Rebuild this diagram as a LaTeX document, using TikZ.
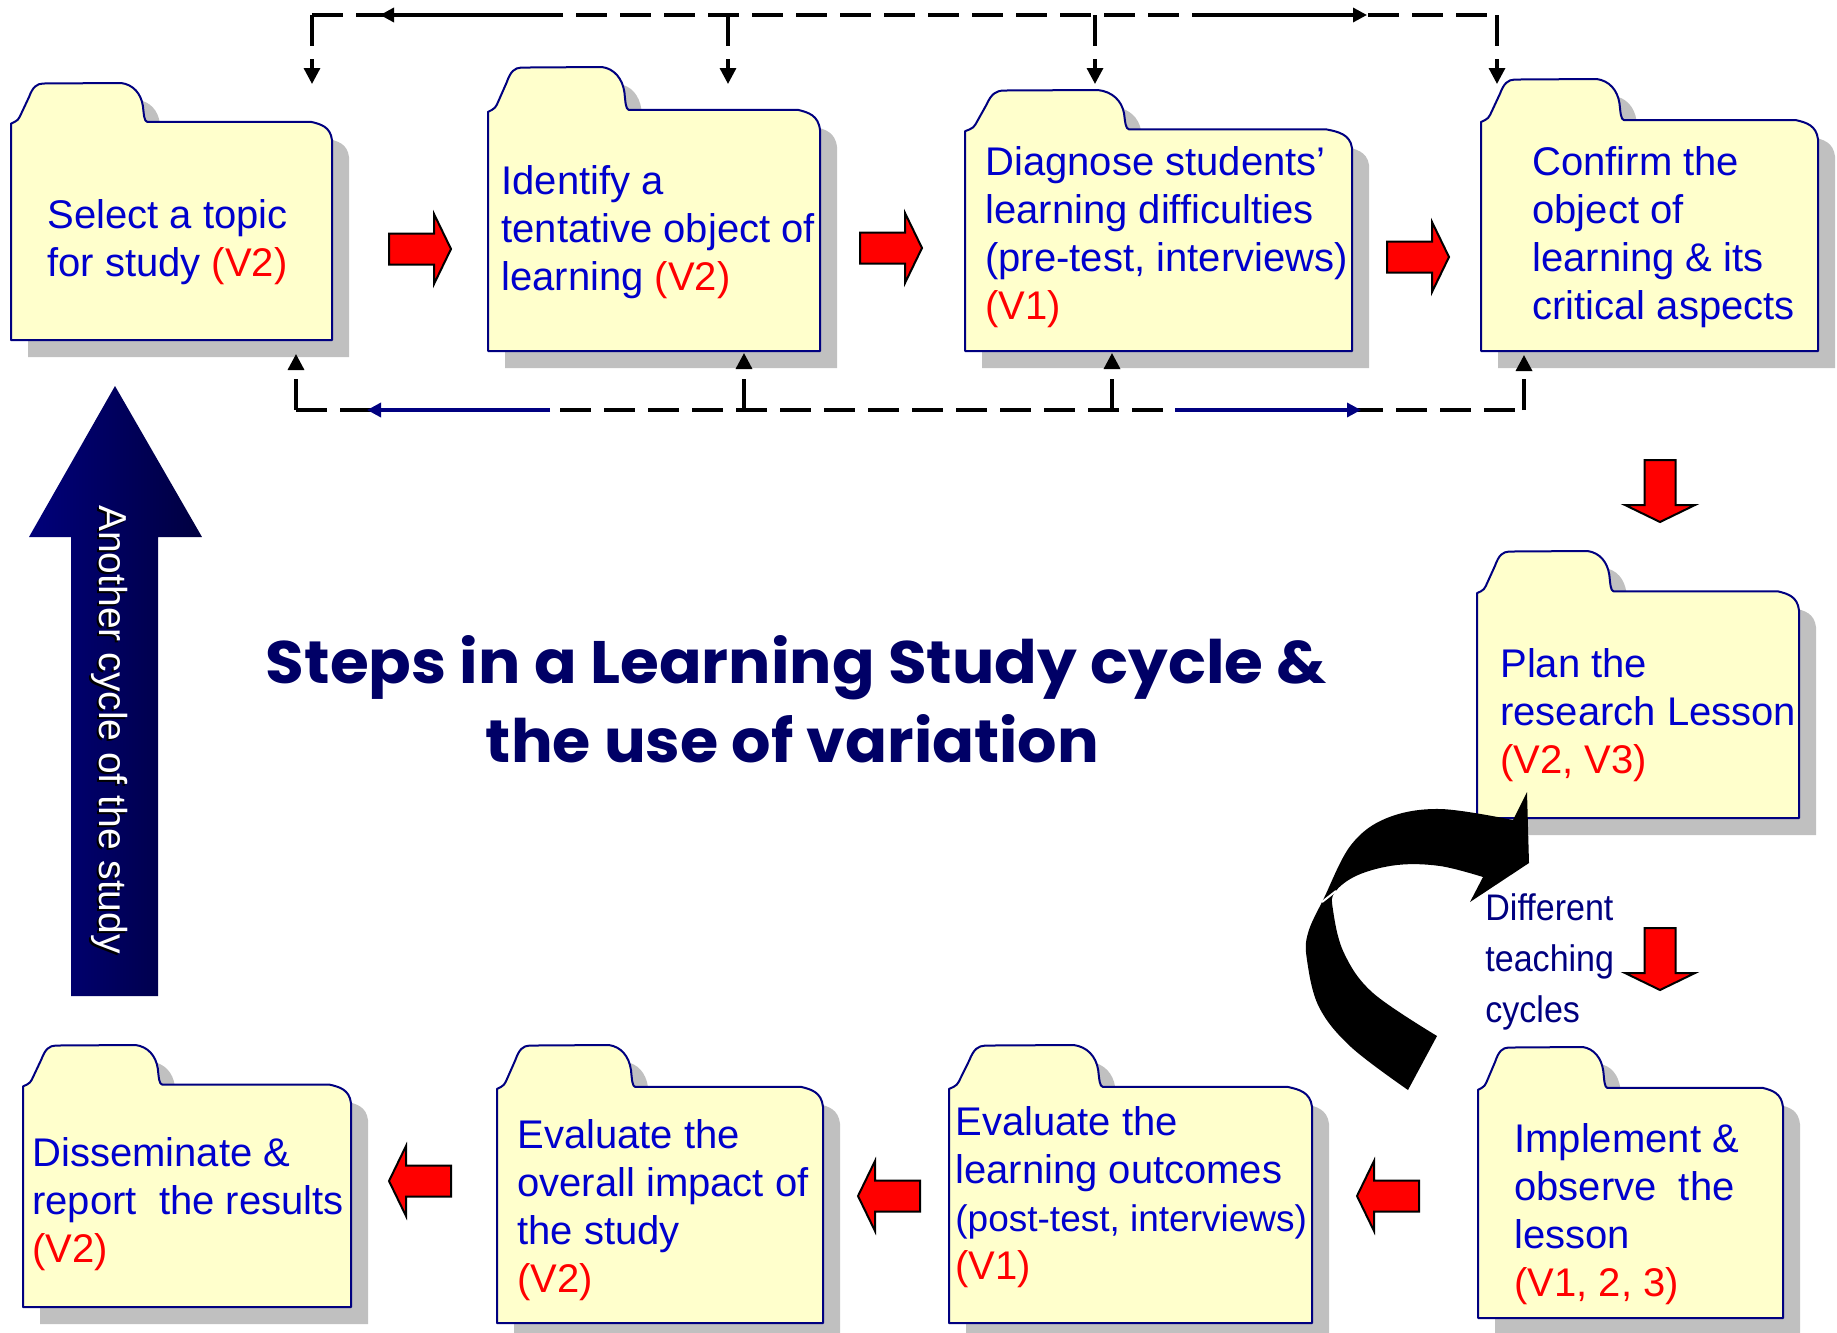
\documentclass[tikz,border=0pt]{standalone}
\usepackage{fontspec}
\usepackage{graphicx}
\setmainfont{Liberation Sans}
\newfontfamily\narrowfont{Liberation Sans}[FakeStretch=0.92]
\newfontfamily\titlefont{Poppins}
\usetikzlibrary{arrows.meta}

\definecolor{folderfill}{HTML}{FFFFCC}
\definecolor{folderline}{HTML}{000080}
\definecolor{foldershadow}{HTML}{C0C0C0}
\definecolor{stepblue}{HTML}{0000CC}
\definecolor{vred}{HTML}{FF0000}
\definecolor{titlenavy}{HTML}{000066}
\definecolor{cyclenavy}{HTML}{000080}
\definecolor{arrowlight}{HTML}{00007A}
\definecolor{arrowdark}{HTML}{000040}

\tikzset{
  folderoutline/.style={insert path={(0,1) -- (0,0.158) -- (0.012,0.151)
      .. controls (0.02,0.147) and (0.023,0.14) .. (0.027,0.132)
      -- (0.056,0.055) .. controls (0.068,0.015) and (0.08,0.003) .. (0.1,0.002)
      -- (0.343,0) .. controls (0.38,0.006) and (0.405,0.04) .. (0.411,0.09)
      .. controls (0.414,0.125) and (0.415,0.149) .. (0.424,0.151)
      -- (0.934,0.151) .. controls (0.965,0.16) and (0.995,0.17) .. (1,0.222)
      -- (1,1) -- cycle}},
  folderbody/.style={fill=folderfill, draw=folderline, line width=1pt, line join=round},
  foldershade/.style={fill=foldershadow},
  steptext/.style={anchor=base west, inner sep=0pt, text=stepblue,
      font=\fontsize{20}{24}\selectfont},
  redarrow/.style={fill=vred, draw=black, line width=1pt, line join=miter},
  feedback/.style={draw=black, line width=1.65pt, dash pattern=on 15.5pt off 6.5pt},
  feedsolid/.style={draw=black, line width=1.65pt},
  feednavy/.style={draw=cyclenavy, line width=1.65pt},
  feedtip/.style={-{Triangle[width=8pt,length=8pt]}},
  cycletext/.style={rotate=-90, anchor=base, inner sep=0pt,
      font=\fontsize{19.5}{23}\selectfont},
}

% folder: left, tab top, right, bottom
\newcommand\folder[4]{%
  \fill[foldershade, shift={(#1+17,#2+17)}, xscale=#3-#1, yscale=#4-#2, folderoutline];
  \filldraw[folderbody, shift={(#1,#2)}, xscale=#3-#1, yscale=#4-#2, folderoutline];
}
% block arrow: tip x, tip y, direction angle
\newcommand\blockarrow[3]{%
  \draw[redarrow, shift={(#1,#2)}, rotate=#3] (0,0) -- (-17,-35) -- (-17,-15.5)
    -- (-62,-15.5) -- (-62,15.5) -- (-17,15.5) -- (-17,35) -- cycle;
}
\newcommand\lines[1]{\begin{tabular}[t]{@{}l@{}}#1\end{tabular}}
\newcommand\vv[1]{\textcolor{vred}{#1}}

\begin{document}
\begin{tikzpicture}[x=0.5pt,y=-0.5pt]
\useasboundingbox[fill=white] (0,0) rectangle (1837,1333);

% ---- folders ----
\folder{11}{83}{332}{340}
\folder{488}{67}{820}{351}
\folder{965}{90}{1352}{351}
\folder{1481}{79}{1818}{351}
\folder{1477}{551}{1799}{818}
\folder{1478}{1047}{1783}{1318}
\folder{949}{1045}{1312}{1323}
\folder{497}{1045}{823}{1323}
\folder{23}{1045}{351}{1307}

% ---- step texts ----
\node[steptext] (select) at (47,228) {\lines{Select a topic\\for study \vv{(V2)}}};
\node[steptext] (identify) at (501,194) {\lines{Identify a\\tentative object of\\learning \vv{(V2)}}};
\node[steptext] (diagnose) at (985,175) {\lines{Diagnose students’\\learning difficulties\\(pre-test, interviews)\\\vv{(V1)}}};
\node[steptext] (confirm) at (1532,175) {\lines{Confirm the\\object of\\learning \& its\\critical aspects}};
\node[steptext] (plan) at (1500,677) {\lines{Plan the\\research Lesson\\\vv{(V2, V3)}}};
\node[steptext] (implement) at (1514,1152) {\lines{Implement \&\\observe\ \ the\\lesson\\\vv{(V1, 2, 3)}}};
\node[steptext] (outcomes) at (955,1135) {\lines{Evaluate the\\learning outcomes\\{\fontsize{18.5}{24}\selectfont(post-test, interviews)}\\\vv{(V1)}}};
\node[steptext] (impact) at (517,1148) {\lines{Evaluate the\\overall impact of\\the study\\\vv{(V2)}}};
\node[steptext] (report) at (32,1166) {\lines{Disseminate \&\\report\ \ the results\\\vv{(V2)}}};

% ---- red block arrows between steps ----
\blockarrow{451}{249}{0}
\blockarrow{922}{248}{0}
\blockarrow{1449}{257}{0}
\blockarrow{1660}{522}{-90}
\blockarrow{1660}{990}{-90}
\blockarrow{1357}{1196}{180}
\blockarrow{858}{1196}{180}
\blockarrow{389}{1181}{180}

% ---- feedback loop above the top row ----
\coordinate (fbA) at (312,15);  \coordinate (inA) at (312,84);
\coordinate (fbB) at (728,15);  \coordinate (inB) at (728,84);
\coordinate (fbC) at (1095,15); \coordinate (inC) at (1095,84);
\coordinate (fbD) at (1497,15); \coordinate (inD) at (1497,84);
\draw[feedback] (fbA) -- (fbD);
\draw[feedback, feedtip] (fbA) -- (inA);
\draw[feedback, feedtip] (fbB) -- (inB);
\draw[feedback, feedtip] (fbC) -- (inC);
\draw[feedback, feedtip] (fbD) -- (inD);
\coordinate (fbLs) at (563,15);  \coordinate (fbLe) at (380,15);
\coordinate (fbRs) at (1193,15); \coordinate (fbRe) at (1367,15);
\draw[feedsolid, -{Triangle[width=7pt,length=7pt]}] (fbLs) -- (fbLe);
\draw[feedsolid, -{Triangle[width=7pt,length=7pt]}] (fbRs) -- (fbRe);

% ---- feedback loop below the top row ----
\coordinate (bkA) at (296,410);  \coordinate (upA) at (296,354);
\coordinate (bkB) at (744,410);  \coordinate (upB) at (744,353);
\coordinate (bkC) at (1112,410); \coordinate (upC) at (1112,353);
\coordinate (bkD) at (1524,410); \coordinate (upD) at (1524,355);
\draw[feedback] (bkA) -- (bkD);
\draw[feedback, feedtip] (bkA) -- (upA);
\draw[feedback, feedtip] (bkB) -- (upB);
\draw[feedback, feedtip] (bkC) -- (upC);
\draw[feedback, feedtip] (bkD) -- (upD);
\coordinate (bkLs) at (550,410);  \coordinate (bkLe) at (367,410);
\coordinate (bkRs) at (1175,410); \coordinate (bkRe) at (1361,410);
\draw[feednavy, -{Triangle[width=7pt,length=7pt]}] (bkLs) -- (bkLe);
\draw[feednavy, -{Triangle[width=7pt,length=7pt]}] (bkRs) -- (bkRe);

% ---- title ----
\node[anchor=base, inner sep=0pt, text=titlenavy] (title1) at (796.5,683)
  {\resizebox{530.5pt}{24pt}{\titlefont\bfseries Steps in a Learning Study cycle \&}};
\node[anchor=base, inner sep=0pt, text=titlenavy] (title2) at (792.5,762)
  {\resizebox{306.5pt}{24pt}{\titlefont\bfseries the use of variation}};

% ---- big upward arrow: another cycle ----
\shade[left color=arrowlight, right color=arrowdark]
  (115,386) -- (202,537) -- (158,537) -- (158,996) -- (71,996) -- (71,537) -- (29,537) -- cycle;
\node[cycletext, text=black] (cycleshadow) at (97,731.5) {Another cycle of the study};
\node[cycletext, text=white] (cycle) at (99,729.5) {Another cycle of the study};

% ---- curved arrow: different teaching cycles ----
\fill[black] plot[smooth, tension=0.6] coordinates {(1408,1090) (1351,1047) (1319,1007) (1307,960)
    (1308,933) (1324,898) (1351,845) (1387,818) (1440,809) (1513,820)}
  -- (1527,792) -- (1529,863) -- (1470,902)
  -- plot[smooth, tension=0.6] coordinates {(1483,877) (1440,866) (1397,865) (1358,875)
    (1335,892) (1333,910) (1344,953) (1373,993) (1437,1036)} -- cycle;
\draw[white, line width=1pt] (1322,902) -- (1336,891);
\node[anchor=base west, inner sep=0pt, text=cyclenavy,
      font=\narrowfont\fontsize{18.5}{25.5}\selectfont] (cycles) at (1485,920)
  {\lines{Different\\teaching\\cycles}};
\end{tikzpicture}
\end{document}
